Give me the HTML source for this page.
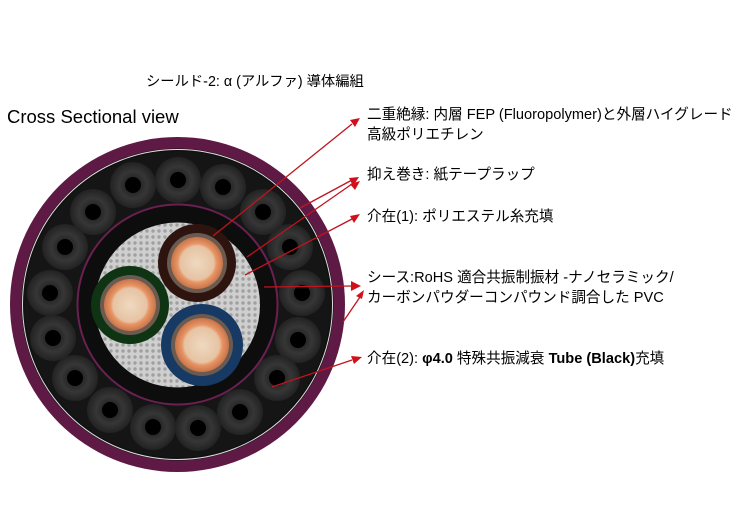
<!DOCTYPE html>
<html><head><meta charset="utf-8"><style>
body{margin:0;background:#fff;width:750px;height:520px;overflow:hidden}
svg{display:block}
text{font-family:"Liberation Sans","Noto Sans CJK JP",sans-serif;fill:#000}
</style></head><body>
<svg width="750" height="520" viewBox="0 0 750 520">
<defs>
<pattern id="dots" width="6" height="6" patternUnits="userSpaceOnUse">
<rect width="6" height="6" fill="#cfcfcf"/><circle cx="3" cy="3" r="1.7" fill="#a0a0a0"/>
</pattern>
<radialGradient id="cu" cx="50%" cy="50%" r="50%">
<stop offset="0" stop-color="#efd9c0"/><stop offset="0.65" stop-color="#e6c3a3"/><stop offset="0.75" stop-color="#e89565"/><stop offset="1" stop-color="#c8744a"/>
</radialGradient>
<radialGradient id="tube" cx="50%" cy="50%" r="50%">
<stop offset="0.3" stop-color="#262626"/><stop offset="0.6" stop-color="#363636"/><stop offset="1" stop-color="#222"/>
</radialGradient>
</defs>
<text x="146" y="86" font-size="14.3">シールド-2: α (アルファ) 導体編組</text>
<text x="7" y="123" font-size="18.5" fill="#222">Cross Sectional view</text>

<circle cx="177.5" cy="304.5" r="167.5" fill="#5e1a44"/>
<circle cx="177.5" cy="304.5" r="156" fill="#111"/>
<circle cx="177.5" cy="304.5" r="155" fill="none" stroke="#ddd" stroke-width="1"/>
<circle cx="177.5" cy="304.5" r="153" fill="#151515"/>
<g fill="url(#tube)">
<circle cx="93" cy="212" r="23"/><circle cx="133" cy="185" r="23"/><circle cx="178" cy="180" r="23"/><circle cx="223" cy="187" r="23"/><circle cx="263" cy="212" r="23"/><circle cx="290" cy="247" r="23"/><circle cx="302" cy="293" r="23"/><circle cx="298" cy="340" r="23"/><circle cx="277" cy="378" r="23"/><circle cx="240" cy="412" r="23"/><circle cx="198" cy="428" r="23"/><circle cx="153" cy="427" r="23"/><circle cx="110" cy="410" r="23"/><circle cx="75" cy="378" r="23"/><circle cx="53" cy="338" r="23"/><circle cx="50" cy="293" r="23"/><circle cx="65" cy="247" r="23"/>
</g>
<g fill="#000">
<circle cx="93" cy="212" r="8"/><circle cx="133" cy="185" r="8"/><circle cx="178" cy="180" r="8"/><circle cx="223" cy="187" r="8"/><circle cx="263" cy="212" r="8"/><circle cx="290" cy="247" r="8"/><circle cx="302" cy="293" r="8"/><circle cx="298" cy="340" r="8"/><circle cx="277" cy="378" r="8"/><circle cx="240" cy="412" r="8"/><circle cx="198" cy="428" r="8"/><circle cx="153" cy="427" r="8"/><circle cx="110" cy="410" r="8"/><circle cx="75" cy="378" r="8"/><circle cx="53" cy="338" r="8"/><circle cx="50" cy="293" r="8"/><circle cx="65" cy="247" r="8"/>
</g>
<circle cx="177.5" cy="304.5" r="101" fill="#6a2050"/>
<circle cx="177.5" cy="304.5" r="99" fill="#0d0d0d"/>
<circle cx="177.5" cy="305" r="82.5" fill="url(#dots)"/>

<circle cx="197" cy="263" r="39" fill="#2e140e"/>
<circle cx="197" cy="263" r="30" fill="#6a5a50"/>
<circle cx="197" cy="263" r="26" fill="url(#cu)"/>
<circle cx="130" cy="305" r="39" fill="#0e3414"/>
<circle cx="130" cy="305" r="30" fill="#6a5a50"/>
<circle cx="130" cy="305" r="26" fill="url(#cu)"/>
<circle cx="202" cy="345" r="41" fill="#163a64"/>
<circle cx="202" cy="345" r="31" fill="#6a5a50"/>
<circle cx="202" cy="345" r="27" fill="url(#cu)"/>

<g stroke="#c0141e" stroke-width="1.3" fill="none">
<line x1="213" y1="236" x2="352" y2="124"/>
<line x1="247" y1="257" x2="352" y2="184"/>
<line x1="300" y1="208" x2="352" y2="180"/>
<line x1="245" y1="275" x2="352" y2="219"/>
<line x1="264" y1="287" x2="352" y2="286"/>
<line x1="343" y1="322" x2="360" y2="297"/>
<line x1="272" y1="387" x2="352" y2="360"/>
</g>
<g fill="#d0101a">
<polygon points="360,118 350,120 355,127"/>
<polygon points="359,177 349,178 353,186"/>
<polygon points="360,181 350,184 355,190"/>
<polygon points="360,214 350,216 354,223"/>
<polygon points="361,286 351,281 351,291"/>
<polygon points="364,290 356,296 362,299"/>
<polygon points="362,357 351,356 354,364"/>
</g>

<g font-size="14.6">
<text x="367" y="119">二重絶縁: 内層 FEP (Fluoropolymer)と外層ハイグレード</text>
<text x="367" y="139">高級ポリエチレン</text>
<text x="367" y="179">抑え巻き: 紙テープラップ</text>
<text x="367" y="221">介在(1): ポリエステル糸充填</text>
<text x="367" y="282">シース:RoHS 適合共振制振材 -ナノセラミック/</text>
<text x="367" y="302">カーボンパウダーコンパウンド調合した PVC</text>
<text x="367" y="363">介在(2): <tspan font-weight="bold">φ4.0</tspan>  特殊共振減衰 <tspan font-weight="bold">Tube (Black)</tspan>充填</text>
</g>
</svg>
</body></html>
